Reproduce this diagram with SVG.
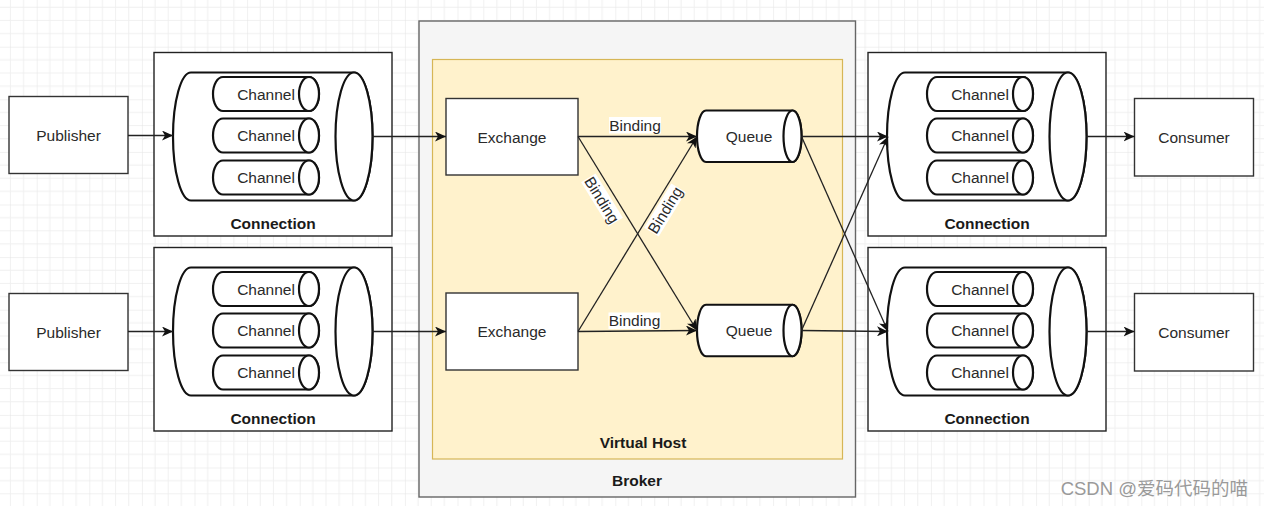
<svg xmlns="http://www.w3.org/2000/svg" width="1264" height="506" viewBox="0 0 1264 506">
<defs>
<pattern id="grid" x="36.7" y="46.7" width="52.6" height="52.6" patternUnits="userSpaceOnUse">
<path d="M13.15,0 V52.6 M26.3,0 V52.6 M39.45,0 V52.6 M0,13.15 H52.6 M0,26.3 H52.6 M0,39.45 H52.6" stroke="#f0f0f0" stroke-width="1" fill="none"/>
<path d="M0,0 V52.6 M0,0 H52.6" stroke="#e4e4e4" stroke-width="1" fill="none"/>
</pattern>
<marker id="arr" markerUnits="userSpaceOnUse" markerWidth="12" markerHeight="10" viewBox="0 0 12 10" refX="11" refY="5" orient="auto">
<path d="M0,0 L11,5 L0,10 L3,5 Z" fill="#111"/>
</marker>
<g id="conn">
<rect x="154" y="52.5" width="238" height="183.5" fill="#fff" stroke="#222" stroke-width="1.4"/>
<path class="cyl" d="M191,72.5 H354 A18.5,64 0 0 1 354,200.5 H191 A18,64 0 0 1 191,72.5 Z"/>
<ellipse class="cyl" cx="354" cy="136.5" rx="18.5" ry="64"/>
<path class="cyl" d="M223,77 H309 A10,17 0 0 1 309,111 H223 A10,17 0 0 1 223,77 Z"/>
<ellipse class="cyl" cx="309" cy="94" rx="10" ry="17"/>
<path class="cyl" d="M223,118.5 H309 A10,17 0 0 1 309,152.5 H223 A10,17 0 0 1 223,118.5 Z"/>
<ellipse class="cyl" cx="309" cy="135.5" rx="10" ry="17"/>
<path class="cyl" d="M223,160.5 H309 A10,17 0 0 1 309,194.5 H223 A10,17 0 0 1 223,160.5 Z"/>
<ellipse class="cyl" cx="309" cy="177.5" rx="10" ry="17"/>
<text class="t" x="266" y="94">Channel</text>
<text class="t" x="266" y="135.5">Channel</text>
<text class="t" x="266" y="177.5">Channel</text>
<text class="b" x="273" y="223.5">Connection</text>
</g>
</defs>
<style>
.t{font-family:"Liberation Sans",Arial,sans-serif;font-size:15.5px;fill:#2a2a2a;text-anchor:middle;dominant-baseline:central}
.b{font-family:"Liberation Sans",Arial,sans-serif;font-size:15.5px;font-weight:bold;fill:#1a1a1a;text-anchor:middle;dominant-baseline:central}
.box{fill:#fff;stroke:#333;stroke-width:1.4}
.cyl{fill:#fff;stroke:#111;stroke-width:2.2}
.edge{fill:none;stroke:#222;stroke-width:1.3;marker-end:url(#arr)}
.lbl{fill:#fff}
</style>
<rect width="1264" height="506" fill="#fff"/>
<rect width="1264" height="506" fill="url(#grid)"/>

<g id="broker">
<rect x="419" y="21" width="436.5" height="476" fill="#f5f5f5" stroke="#666" stroke-width="1.4"/>
<text class="b" x="637" y="480">Broker</text>
</g>
<g id="vhost">
<rect x="432.5" y="59.5" width="410" height="399.5" fill="#fff2cc" stroke="#d6b656" stroke-width="1.2"/>
<text class="b" x="643" y="442">Virtual Host</text>
</g>

<g id="publisher1">
<rect class="box" x="9" y="96.5" width="119" height="77"/>
<text class="t" x="68.5" y="135">Publisher</text>
</g>
<g id="publisher2">
<rect class="box" x="9" y="293.5" width="119" height="77"/>
<text class="t" x="68.5" y="332">Publisher</text>
</g>

<g id="connection1"><use href="#conn"/></g>
<g id="connection2"><use href="#conn" transform="translate(0,195)"/></g>
<g id="connection3"><use href="#conn" transform="translate(714,0)"/></g>
<g id="connection4"><use href="#conn" transform="translate(714,195)"/></g>

<g id="exchange1">
<rect class="box" x="446" y="98.5" width="132" height="76.5"/>
<text class="t" x="512" y="137">Exchange</text>
</g>
<g id="exchange2">
<rect class="box" x="446" y="293" width="132" height="77"/>
<text class="t" x="512" y="331.5">Exchange</text>
</g>

<g id="queue1">
<path class="cyl" d="M706,110.5 H792.5 A9,25.75 0 0 1 792.5,162 H706 A9,25.75 0 0 1 706,110.5 Z"/>
<ellipse class="cyl" cx="792.5" cy="136.25" rx="9" ry="25.75"/>
<text class="t" x="749" y="136.5">Queue</text>
</g>
<g id="queue2">
<path class="cyl" d="M706,304.75 H792.5 A9,25.75 0 0 1 792.5,356.25 H706 A9,25.75 0 0 1 706,304.75 Z"/>
<ellipse class="cyl" cx="792.5" cy="330.5" rx="9" ry="25.75"/>
<text class="t" x="749" y="330.5">Queue</text>
</g>

<g id="consumer1">
<rect class="box" x="1134.5" y="98.5" width="119" height="77.5"/>
<text class="t" x="1194" y="137.5">Consumer</text>
</g>
<g id="consumer2">
<rect class="box" x="1134.5" y="293.5" width="119" height="77.5"/>
<text class="t" x="1194" y="332.5">Consumer</text>
</g>

<g id="connectors">
<path class="edge" d="M128,135.5 L173,135.5"/>
<path class="edge" d="M128,331.5 L173,331.5"/>
<path class="edge" d="M372.5,136.5 L446,136.5"/>
<path class="edge" d="M372.5,331.5 L446,331.5"/>
<path class="edge" d="M578,136.5 L697,136.5"/>
<path class="edge" d="M578,136.5 L697,330.5"/>
<path class="edge" d="M578,331.5 L697,136.5"/>
<path class="edge" d="M578,331.5 L697,330.5"/>
<path class="edge" d="M801.5,136.5 L888,136.5"/>
<path class="edge" d="M801.5,136.5 L888,331.5"/>
<path class="edge" d="M801.5,330.5 L888,136.5"/>
<path class="edge" d="M801.5,330.5 L888,331.5"/>
<path class="edge" d="M1086.5,136.5 L1134.5,136.5"/>
<path class="edge" d="M1086.5,331.5 L1134.5,331.5"/>
<g id="binding-labels">
<rect class="lbl" x="609" y="117" width="52" height="16.5"/>
<text class="t" x="635" y="125">Binding</text>
<rect class="lbl" x="608.5" y="312.5" width="52" height="16.5"/>
<text class="t" x="634.5" y="320.5">Binding</text>
<g transform="translate(602,200) rotate(58.3)">
<rect class="lbl" x="-26" y="-8.5" width="52" height="17"/>
<text class="t" x="0" y="0">Binding</text>
</g>
<g transform="translate(665,210) rotate(-58.6)">
<rect class="lbl" x="-26" y="-8.5" width="52" height="17"/>
<text class="t" x="0" y="0">Binding</text>
</g>
</g>
</g>

<text x="1248" y="488" font-family="'Liberation Sans','Noto Sans CJK SC',sans-serif" font-size="18.5" fill="#9a9a9a" text-anchor="end" dominant-baseline="central">CSDN @爱码代码的喵</text>
</svg>
